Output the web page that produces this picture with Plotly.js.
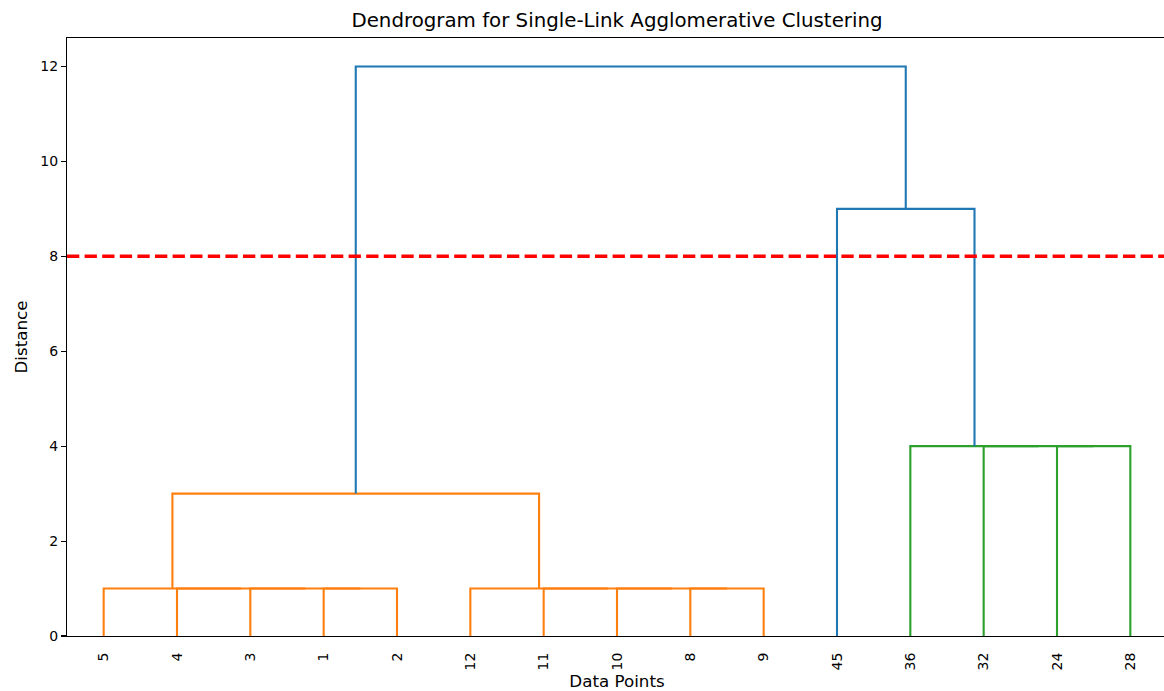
<!DOCTYPE html>
<html>
<head>
<meta charset="utf-8">
<script src="https://cdn.plot.ly/plotly-3.0.1.min.js"></script>
<style>html,body{margin:0;padding:0;background:#fff;overflow:hidden;}#chart{width:1167px;height:691px;}</style>
</head>
<body>
<div id="chart"></div>
<script>
// Leaf labels in dendrogram order
const leafLabels = ['5','4','3','1','2','12','11','10','8','9','45','36','32','24','28'];
// Merge steps: node ids 0..14 are leaves, merges get ids 15, 16, ...
const mergeA      = [3, 2, 1, 0, 8, 7, 6, 5, 18, 13, 12, 11, 10, 23];
const mergeB      = [4, 15, 16, 17, 9, 19, 20, 21, 22, 14, 24, 25, 26, 27];
const mergeHeight = [1, 1, 1, 1, 1, 1, 1, 1, 3, 4, 4, 4, 9, 12];
const mergeGroup  = ['C1','C1','C1','C1','C1','C1','C1','C1','C1','C2','C2','C2','C0','C0'];
const cutHeight = 8;

const palette = {C0:'#1f77b4', C1:'#ff7f0e', C2:'#2ca02c'};
const nLeaf = leafLabels.length;
const nodeX = [], nodeY = [];
for (let i = 0; i < nLeaf; i++) { nodeX.push(5 + 10*i); nodeY.push(0); }

const traces = [];
for (let k = 0; k < mergeA.length; k++) {
  const a = mergeA[k], b = mergeB[k], h = mergeHeight[k];
  const xa = nodeX[a], xb = nodeX[b];
  traces.push({
    type:'scatter', mode:'lines',
    x:[xa, xa, xb, xb], y:[nodeY[a], h, h, nodeY[b]],
    line:{color: palette[mergeGroup[k]], width:2.1},
    hoverinfo:'skip', showlegend:false
  });
  nodeX.push((xa + xb)/2); nodeY.push(h);
}

const tickVals = leafLabels.map((_, i) => 5 + 10*i);
const tickFont = {family:'DejaVu Sans, sans-serif', size:14, color:'#000'};
const labelFont = {family:'DejaVu Sans, sans-serif', size:16.7, color:'#000'};

const layout = {
  width:1167, height:691,
  margin:{l:67, r:0, t:38, b:55},
  paper_bgcolor:'#fff', plot_bgcolor:'#fff',
  font: tickFont,
  showlegend:false,
  title:{text:'Dendrogram for Single-Link Agglomerative Clustering',
         font:{family:'DejaVu Sans, sans-serif', size:19.8, color:'#000'},
         x:0.5, xanchor:'center', xref:'paper',
         y:1 - 27/691, yanchor:'bottom', yref:'container'},
  xaxis:{range:[0, 150], tickvals:tickVals, ticktext:leafLabels, tickangle:-90,
         ticks:'outside', ticklen:10, tickcolor:'rgba(0,0,0,0)',
         showline:true, mirror:true, linecolor:'#000', linewidth:1.1,
         showgrid:false, zeroline:false, tickfont:tickFont,
         title:{text:'Data Points', font:labelFont, standoff:8}},
  yaxis:{range:[0, 12.6], tickvals:[0,2,4,6,8,10,12],
         ticks:'outside', ticklen:5, tickwidth:1.1, tickcolor:'#000',
         showline:true, mirror:true, linecolor:'#000', linewidth:1.1,
         showgrid:false, zeroline:false, tickfont:tickFont,
         title:{text:'Distance', font:labelFont, standoff:8}},
  shapes:[{type:'line', xref:'paper', x0:0, x1:1, yref:'y', y0:cutHeight, y1:cutHeight,
           line:{color:'red', width:3.4, dash:'12.3px,5.3px'}}]
};

Plotly.newPlot('chart', traces, layout, {displayModeBar:false, staticPlot:true});
</script>
</body>
</html>
